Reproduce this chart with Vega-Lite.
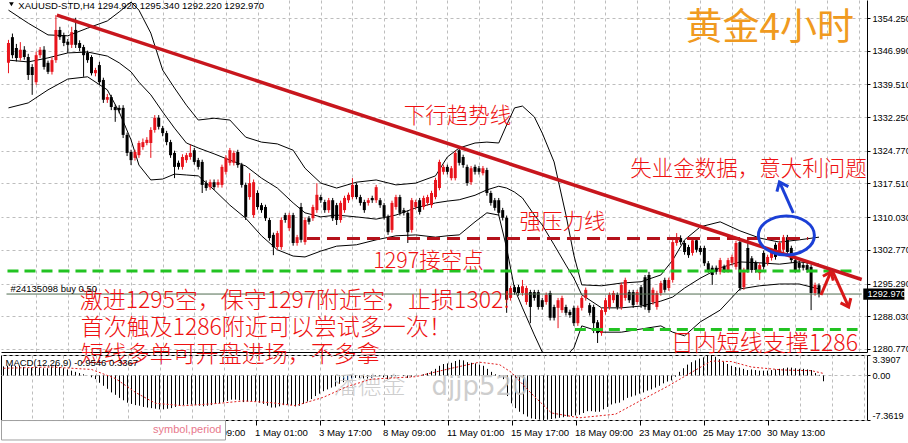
{
"$schema":"https://vega.github.io/schema/vega-lite/v6.json",
"background":"white",
"padding":0,
"spacing":3,
"bounds":"flush",
"config":{"view":{"stroke":null},"axis":{"labelFont":"Liberation Sans","labelFontSize":9.6,"labelColor":"black","labelOverlap":false,"labelBound":false,"tickCount":100}},
"datasets":{
"candles":[
{"i":0,"o":1344.3,"h":1349.4,"l":1342.0,"c":1348.7,"m":1.5},
{"i":1,"o":1350.0,"h":1350.8,"l":1345.3,"c":1346.0,"m":1.6},
{"i":2,"o":1347.6,"h":1348.5,"l":1344.6,"c":1345.4,"m":1.7},
{"i":3,"o":1345.4,"h":1348.9,"l":1344.8,"c":1347.2,"m":1.6},
{"i":4,"o":1347.2,"h":1348.0,"l":1345.0,"c":1345.6,"m":1.6},
{"i":5,"o":1345.6,"h":1346.3,"l":1340.5,"c":1341.6,"m":1.4},
{"i":6,"o":1343.4,"h":1344.0,"l":1337.2,"c":1341.6,"m":1.2},
{"i":7,"o":1340.0,"h":1346.8,"l":1339.4,"c":1346.0,"m":1.3},
{"i":8,"o":1346.0,"h":1347.8,"l":1345.4,"c":1347.2,"m":1.4},
{"i":9,"o":1347.2,"h":1348.0,"l":1342.8,"c":1343.4,"m":1.3},
{"i":10,"o":1344.3,"h":1344.8,"l":1341.8,"c":1342.3,"m":1.2},
{"i":11,"o":1342.3,"h":1345.5,"l":1341.7,"c":1344.9,"m":1.2},
{"i":12,"o":1344.9,"h":1354.9,"l":1344.3,"c":1351.6,"m":1.5},
{"i":13,"o":1351.6,"h":1352.3,"l":1349.4,"c":1350.0,"m":1.8},
{"i":14,"o":1350.5,"h":1351.0,"l":1348.0,"c":1348.7,"m":1.4},
{"i":15,"o":1349.0,"h":1349.6,"l":1346.5,"c":1348.3,"m":1.2},
{"i":16,"o":1348.3,"h":1352.3,"l":1347.6,"c":1351.1,"m":1.0},
{"i":17,"o":1351.6,"h":1354.3,"l":1347.6,"c":1348.3,"m":0.8},
{"i":18,"o":1348.7,"h":1349.3,"l":1346.9,"c":1347.6,"m":0.6},
{"i":19,"o":1347.8,"h":1348.3,"l":1341.2,"c":1346.0,"m":0.4},
{"i":20,"o":1346.5,"h":1347.0,"l":1344.3,"c":1344.9,"m":0.2},
{"i":21,"o":1345.6,"h":1346.0,"l":1341.5,"c":1342.0,"m":0.0},
{"i":22,"o":1342.0,"h":1343.2,"l":1341.3,"c":1342.7,"m":-0.3},
{"i":23,"o":1343.8,"h":1344.5,"l":1339.4,"c":1340.0,"m":-0.6},
{"i":24,"o":1340.5,"h":1341.0,"l":1335.4,"c":1336.1,"m":-1.2},
{"i":25,"o":1336.1,"h":1337.4,"l":1335.4,"c":1336.7,"m":-1.7},
{"i":26,"o":1336.7,"h":1337.2,"l":1333.8,"c":1334.5,"m":-2.2},
{"i":27,"o":1334.5,"h":1335.0,"l":1331.2,"c":1333.8,"m":-2.8},
{"i":28,"o":1334.3,"h":1334.9,"l":1333.1,"c":1333.8,"m":-3.2},
{"i":29,"o":1334.3,"h":1334.9,"l":1327.6,"c":1328.3,"m":-3.7},
{"i":30,"o":1328.3,"h":1328.8,"l":1323.6,"c":1324.3,"m":-4.1},
{"i":31,"o":1324.5,"h":1325.0,"l":1321.6,"c":1322.7,"m":-4.5},
{"i":32,"o":1323.2,"h":1325.0,"l":1322.6,"c":1324.5,"m":-4.7},
{"i":33,"o":1323.8,"h":1327.0,"l":1323.2,"c":1326.5,"m":-4.9},
{"i":34,"o":1325.6,"h":1327.5,"l":1325.0,"c":1326.7,"m":-5.0},
{"i":35,"o":1326.5,"h":1327.8,"l":1326.0,"c":1327.2,"m":-5.2},
{"i":36,"o":1326.5,"h":1330.0,"l":1323.2,"c":1329.4,"m":-5.3},
{"i":37,"o":1329.4,"h":1332.7,"l":1328.8,"c":1332.1,"m":-5.4},
{"i":38,"o":1332.1,"h":1332.7,"l":1329.5,"c":1330.1,"m":-5.5},
{"i":39,"o":1329.8,"h":1330.3,"l":1328.0,"c":1328.7,"m":-5.6},
{"i":40,"o":1328.7,"h":1329.2,"l":1326.0,"c":1326.7,"m":-5.6},
{"i":41,"o":1326.7,"h":1327.2,"l":1323.2,"c":1323.8,"m":-5.5},
{"i":42,"o":1324.3,"h":1324.8,"l":1318.7,"c":1321.2,"m":-5.4},
{"i":43,"o":1322.1,"h":1322.6,"l":1320.6,"c":1321.2,"m":-5.2},
{"i":44,"o":1321.2,"h":1324.0,"l":1320.6,"c":1323.4,"m":-5.0},
{"i":45,"o":1322.7,"h":1324.3,"l":1322.1,"c":1323.8,"m":-4.9},
{"i":46,"o":1323.4,"h":1326.1,"l":1322.8,"c":1324.3,"m":-4.8},
{"i":47,"o":1324.9,"h":1325.4,"l":1321.7,"c":1322.3,"m":-4.8},
{"i":48,"o":1322.7,"h":1323.2,"l":1320.6,"c":1321.2,"m":-4.9},
{"i":49,"o":1322.3,"h":1322.8,"l":1315.4,"c":1317.2,"m":-5.0},
{"i":50,"o":1317.6,"h":1318.2,"l":1315.9,"c":1316.5,"m":-5.1},
{"i":51,"o":1316.7,"h":1318.4,"l":1316.1,"c":1317.8,"m":-5.0},
{"i":52,"o":1317.8,"h":1318.4,"l":1316.1,"c":1316.7,"m":-4.9},
{"i":53,"o":1317.2,"h":1318.4,"l":1316.6,"c":1317.8,"m":-4.7},
{"i":54,"o":1317.2,"h":1321.7,"l":1316.6,"c":1321.2,"m":-4.6},
{"i":55,"o":1320.1,"h":1323.8,"l":1319.5,"c":1323.2,"m":-4.4},
{"i":56,"o":1322.1,"h":1325.4,"l":1321.5,"c":1324.9,"m":-4.2},
{"i":57,"o":1322.1,"h":1324.8,"l":1321.5,"c":1324.3,"m":-4.0},
{"i":58,"o":1324.5,"h":1325.0,"l":1321.0,"c":1321.6,"m":-4.0},
{"i":59,"o":1321.6,"h":1322.1,"l":1316.6,"c":1317.2,"m":-4.1},
{"i":60,"o":1317.2,"h":1317.7,"l":1309.4,"c":1310.1,"m":-4.4},
{"i":61,"o":1314.5,"h":1319.8,"l":1313.9,"c":1317.6,"m":-4.3},
{"i":62,"o":1310.5,"h":1318.4,"l":1309.9,"c":1317.8,"m":-4.2},
{"i":63,"o":1315.4,"h":1316.0,"l":1311.7,"c":1312.3,"m":-4.3},
{"i":64,"o":1312.7,"h":1313.2,"l":1311.0,"c":1311.6,"m":-4.5},
{"i":65,"o":1312.3,"h":1312.8,"l":1309.2,"c":1309.8,"m":-4.7},
{"i":66,"o":1309.4,"h":1309.9,"l":1304.8,"c":1305.4,"m":-5.0},
{"i":67,"o":1306.1,"h":1306.6,"l":1301.6,"c":1303.4,"m":-5.3},
{"i":68,"o":1303.4,"h":1307.0,"l":1302.8,"c":1306.5,"m":-5.3},
{"i":69,"o":1303.4,"h":1310.0,"l":1302.8,"c":1309.4,"m":-5.1},
{"i":70,"o":1310.5,"h":1311.0,"l":1308.8,"c":1309.4,"m":-4.9},
{"i":71,"o":1307.6,"h":1311.0,"l":1307.0,"c":1310.5,"m":-4.8},
{"i":72,"o":1310.5,"h":1311.0,"l":1303.7,"c":1304.3,"m":-4.9},
{"i":73,"o":1304.3,"h":1306.1,"l":1303.7,"c":1305.6,"m":-5.1},
{"i":74,"o":1312.3,"h":1313.2,"l":1304.4,"c":1305.0,"m":-5.0},
{"i":75,"o":1304.5,"h":1310.0,"l":1303.9,"c":1309.4,"m":-4.7},
{"i":76,"o":1309.8,"h":1310.3,"l":1308.4,"c":1309.0,"m":-4.3},
{"i":77,"o":1309.8,"h":1312.8,"l":1309.2,"c":1312.3,"m":-3.9},
{"i":78,"o":1311.6,"h":1317.6,"l":1311.0,"c":1315.0,"m":-3.4},
{"i":79,"o":1314.5,"h":1315.0,"l":1313.2,"c":1313.8,"m":-3.0},
{"i":80,"o":1313.4,"h":1313.9,"l":1311.0,"c":1311.6,"m":-2.6},
{"i":81,"o":1311.6,"h":1314.3,"l":1311.0,"c":1313.8,"m":-2.3},
{"i":82,"o":1313.8,"h":1314.3,"l":1309.2,"c":1309.8,"m":-2.0},
{"i":83,"o":1312.7,"h":1313.2,"l":1308.3,"c":1309.4,"m":-1.8},
{"i":84,"o":1309.4,"h":1313.7,"l":1308.8,"c":1313.2,"m":-1.4},
{"i":85,"o":1311.6,"h":1314.8,"l":1311.0,"c":1314.3,"m":-1.1},
{"i":86,"o":1313.8,"h":1315.5,"l":1313.2,"c":1315.0,"m":-0.8},
{"i":87,"o":1314.5,"h":1318.7,"l":1314.0,"c":1317.2,"m":-0.5},
{"i":88,"o":1317.2,"h":1317.7,"l":1314.0,"c":1314.5,"m":-0.4},
{"i":89,"o":1314.5,"h":1315.0,"l":1312.6,"c":1313.2,"m":-0.4},
{"i":90,"o":1313.4,"h":1313.9,"l":1311.0,"c":1311.6,"m":-0.5},
{"i":91,"o":1313.2,"h":1314.3,"l":1312.6,"c":1313.8,"m":-0.5},
{"i":92,"o":1314.3,"h":1314.8,"l":1313.2,"c":1313.8,"m":-0.4},
{"i":93,"o":1313.8,"h":1317.2,"l":1313.2,"c":1316.7,"m":-0.2},
{"i":94,"o":1313.8,"h":1314.3,"l":1312.1,"c":1312.7,"m":-0.2},
{"i":95,"o":1312.7,"h":1313.2,"l":1309.5,"c":1310.1,"m":-0.3},
{"i":96,"o":1310.1,"h":1310.6,"l":1306.1,"c":1306.7,"m":-0.6},
{"i":97,"o":1307.2,"h":1313.7,"l":1306.6,"c":1313.2,"m":-0.4},
{"i":98,"o":1312.3,"h":1315.0,"l":1311.7,"c":1314.5,"m":-0.1},
{"i":99,"o":1314.5,"h":1315.0,"l":1310.4,"c":1311.0,"m":0.0},
{"i":100,"o":1311.6,"h":1312.1,"l":1310.4,"c":1311.0,"m":-0.1},
{"i":101,"o":1311.0,"h":1311.5,"l":1304.3,"c":1306.7,"m":-0.4},
{"i":102,"o":1307.2,"h":1314.3,"l":1306.6,"c":1313.8,"m":-0.2},
{"i":103,"o":1312.3,"h":1313.9,"l":1311.7,"c":1313.4,"m":0.0},
{"i":104,"o":1313.8,"h":1314.3,"l":1310.6,"c":1311.2,"m":0.0},
{"i":105,"o":1312.3,"h":1314.8,"l":1311.7,"c":1314.3,"m":0.2},
{"i":106,"o":1313.2,"h":1315.0,"l":1312.6,"c":1314.5,"m":0.4},
{"i":107,"o":1312.7,"h":1315.9,"l":1312.1,"c":1315.4,"m":0.7},
{"i":108,"o":1314.5,"h":1318.8,"l":1314.0,"c":1318.3,"m":1.1},
{"i":109,"o":1316.5,"h":1322.8,"l":1316.0,"c":1322.3,"m":1.6},
{"i":110,"o":1320.1,"h":1321.7,"l":1319.5,"c":1321.2,"m":1.9},
{"i":111,"o":1321.2,"h":1321.7,"l":1319.5,"c":1320.1,"m":2.0},
{"i":112,"o":1318.7,"h":1321.4,"l":1318.2,"c":1320.9,"m":2.1},
{"i":113,"o":1318.7,"h":1324.8,"l":1318.2,"c":1324.3,"m":2.4},
{"i":114,"o":1324.9,"h":1325.8,"l":1321.5,"c":1322.1,"m":2.6},
{"i":115,"o":1323.4,"h":1323.9,"l":1321.0,"c":1321.6,"m":2.5},
{"i":116,"o":1321.2,"h":1321.7,"l":1317.0,"c":1317.6,"m":2.2},
{"i":117,"o":1317.8,"h":1321.4,"l":1317.2,"c":1320.9,"m":2.1},
{"i":118,"o":1321.2,"h":1321.7,"l":1319.5,"c":1320.1,"m":2.0},
{"i":119,"o":1320.9,"h":1321.4,"l":1319.5,"c":1320.1,"m":1.8},
{"i":120,"o":1319.8,"h":1321.4,"l":1319.3,"c":1320.9,"m":1.6},
{"i":121,"o":1320.5,"h":1321.0,"l":1314.8,"c":1315.4,"m":1.1},
{"i":122,"o":1315.4,"h":1315.9,"l":1312.6,"c":1313.2,"m":0.6},
{"i":123,"o":1313.8,"h":1314.3,"l":1311.5,"c":1312.1,"m":0.2},
{"i":124,"o":1313.8,"h":1314.3,"l":1310.4,"c":1311.0,"m":-0.2},
{"i":125,"o":1311.6,"h":1312.1,"l":1309.3,"c":1309.9,"m":-0.6},
{"i":126,"o":1309.9,"h":1310.4,"l":1288.8,"c":1291.7,"m":-3.4},
{"i":127,"o":1292.1,"h":1294.8,"l":1291.5,"c":1294.3,"m":-4.6},
{"i":128,"o":1294.5,"h":1295.0,"l":1292.8,"c":1293.4,"m":-5.4},
{"i":129,"o":1294.5,"h":1295.0,"l":1292.6,"c":1293.2,"m":-6.0},
{"i":130,"o":1293.2,"h":1296.1,"l":1292.6,"c":1294.7,"m":-6.4},
{"i":131,"o":1291.2,"h":1294.8,"l":1290.6,"c":1294.3,"m":-6.8},
{"i":132,"o":1293.4,"h":1293.9,"l":1286.5,"c":1290.1,"m":-7.1},
{"i":133,"o":1293.4,"h":1293.9,"l":1291.5,"c":1292.1,"m":-7.2},
{"i":134,"o":1293.4,"h":1293.9,"l":1289.5,"c":1290.1,"m":-7.3},
{"i":135,"o":1291.6,"h":1292.1,"l":1289.5,"c":1290.1,"m":-7.36},
{"i":136,"o":1291.2,"h":1293.3,"l":1290.6,"c":1292.8,"m":-7.3},
{"i":137,"o":1293.2,"h":1293.7,"l":1287.1,"c":1287.7,"m":-7.2},
{"i":138,"o":1290.1,"h":1290.6,"l":1287.1,"c":1287.7,"m":-7.1},
{"i":139,"o":1289.9,"h":1292.1,"l":1285.4,"c":1291.6,"m":-7.0},
{"i":140,"o":1289.4,"h":1292.6,"l":1288.8,"c":1292.1,"m":-6.9},
{"i":141,"o":1290.1,"h":1290.6,"l":1288.2,"c":1288.8,"m":-6.8},
{"i":142,"o":1289.0,"h":1289.5,"l":1287.7,"c":1288.3,"m":-6.7},
{"i":143,"o":1289.9,"h":1290.4,"l":1285.9,"c":1286.5,"m":-6.6},
{"i":144,"o":1286.5,"h":1290.4,"l":1285.9,"c":1289.9,"m":-6.5},
{"i":145,"o":1289.9,"h":1292.6,"l":1289.3,"c":1292.1,"m":-6.2},
{"i":146,"o":1292.1,"h":1294.4,"l":1291.5,"c":1293.9,"m":-5.9},
{"i":147,"o":1290.5,"h":1291.0,"l":1288.2,"c":1288.8,"m":-5.9},
{"i":148,"o":1290.1,"h":1290.6,"l":1284.3,"c":1286.5,"m":-6.0},
{"i":149,"o":1286.7,"h":1287.2,"l":1282.1,"c":1284.3,"m":-6.0},
{"i":150,"o":1284.3,"h":1289.9,"l":1283.7,"c":1289.4,"m":-5.6},
{"i":151,"o":1289.0,"h":1292.1,"l":1288.4,"c":1291.6,"m":-5.2},
{"i":152,"o":1290.1,"h":1293.3,"l":1289.5,"c":1292.8,"m":-4.8},
{"i":153,"o":1291.6,"h":1293.7,"l":1291.0,"c":1293.2,"m":-4.6},
{"i":154,"o":1292.8,"h":1293.3,"l":1289.5,"c":1290.1,"m":-4.5},
{"i":155,"o":1290.1,"h":1295.5,"l":1289.5,"c":1295.0,"m":-4.1},
{"i":156,"o":1292.1,"h":1296.6,"l":1291.5,"c":1296.1,"m":-3.7},
{"i":157,"o":1293.4,"h":1293.9,"l":1291.0,"c":1291.6,"m":-3.5},
{"i":158,"o":1293.4,"h":1293.9,"l":1289.9,"c":1290.5,"m":-3.3},
{"i":159,"o":1291.2,"h":1293.9,"l":1290.6,"c":1293.4,"m":-3.0},
{"i":160,"o":1294.5,"h":1295.0,"l":1289.9,"c":1290.5,"m":-2.8},
{"i":161,"o":1296.7,"h":1297.2,"l":1289.5,"c":1290.1,"m":-2.5},
{"i":162,"o":1297.2,"h":1297.9,"l":1288.8,"c":1289.4,"m":-2.3},
{"i":163,"o":1291.2,"h":1294.4,"l":1290.6,"c":1293.9,"m":-2.0},
{"i":164,"o":1290.1,"h":1293.7,"l":1289.5,"c":1293.2,"m":-1.7},
{"i":165,"o":1293.2,"h":1295.9,"l":1292.6,"c":1295.4,"m":-1.3},
{"i":166,"o":1296.1,"h":1296.6,"l":1293.3,"c":1293.9,"m":-1.0},
{"i":167,"o":1294.3,"h":1296.6,"l":1293.7,"c":1296.1,"m":-0.8},
{"i":168,"o":1296.1,"h":1305.0,"l":1295.5,"c":1304.5,"m":-0.2},
{"i":169,"o":1304.3,"h":1306.5,"l":1303.7,"c":1305.6,"m":0.6},
{"i":170,"o":1305.4,"h":1306.0,"l":1303.9,"c":1304.5,"m":1.2},
{"i":171,"o":1304.3,"h":1304.8,"l":1301.7,"c":1302.3,"m":1.8},
{"i":172,"o":1303.4,"h":1303.9,"l":1301.0,"c":1301.6,"m":2.2},
{"i":173,"o":1302.1,"h":1305.4,"l":1301.5,"c":1304.9,"m":2.5},
{"i":174,"o":1304.9,"h":1305.4,"l":1302.2,"c":1302.8,"m":2.8},
{"i":175,"o":1303.2,"h":1303.7,"l":1301.7,"c":1302.3,"m":3.0},
{"i":176,"o":1303.2,"h":1303.7,"l":1299.2,"c":1299.8,"m":3.3},
{"i":177,"o":1299.8,"h":1300.3,"l":1297.7,"c":1298.3,"m":3.39},
{"i":178,"o":1298.8,"h":1299.3,"l":1295.0,"c":1297.2,"m":3.1},
{"i":179,"o":1298.8,"h":1299.3,"l":1297.3,"c":1297.9,"m":2.7},
{"i":180,"o":1297.9,"h":1301.0,"l":1297.3,"c":1300.5,"m":2.3},
{"i":181,"o":1299.0,"h":1299.5,"l":1297.7,"c":1298.3,"m":1.9},
{"i":182,"o":1298.3,"h":1301.0,"l":1297.7,"c":1300.5,"m":1.6},
{"i":183,"o":1299.9,"h":1301.7,"l":1299.3,"c":1301.2,"m":1.4},
{"i":184,"o":1299.0,"h":1304.8,"l":1298.4,"c":1304.3,"m":1.3},
{"i":185,"o":1304.5,"h":1305.0,"l":1293.7,"c":1294.3,"m":1.1},
{"i":186,"o":1294.5,"h":1298.8,"l":1293.9,"c":1298.3,"m":0.9},
{"i":187,"o":1303.2,"h":1305.0,"l":1297.7,"c":1298.3,"m":1.0},
{"i":188,"o":1300.9,"h":1301.4,"l":1297.7,"c":1298.3,"m":0.9},
{"i":189,"o":1299.9,"h":1300.4,"l":1297.7,"c":1298.3,"m":0.8},
{"i":190,"o":1297.6,"h":1299.9,"l":1296.1,"c":1299.4,"m":0.8},
{"i":191,"o":1302.1,"h":1302.6,"l":1298.4,"c":1299.0,"m":0.8},
{"i":192,"o":1299.9,"h":1301.7,"l":1299.3,"c":1301.2,"m":0.9},
{"i":193,"o":1301.0,"h":1302.8,"l":1300.4,"c":1302.3,"m":1.0},
{"i":194,"o":1303.9,"h":1304.4,"l":1300.6,"c":1301.2,"m":1.1},
{"i":195,"o":1302.1,"h":1304.8,"l":1301.5,"c":1304.3,"m":1.2},
{"i":196,"o":1302.8,"h":1306.1,"l":1302.2,"c":1305.6,"m":1.3},
{"i":197,"o":1305.6,"h":1306.1,"l":1301.7,"c":1302.3,"m":1.3},
{"i":198,"o":1303.2,"h":1303.7,"l":1299.9,"c":1300.5,"m":1.2},
{"i":199,"o":1300.5,"h":1301.0,"l":1297.7,"c":1298.3,"m":1.1},
{"i":200,"o":1299.9,"h":1300.4,"l":1298.2,"c":1298.8,"m":1.1},
{"i":201,"o":1299.4,"h":1299.9,"l":1298.2,"c":1298.8,"m":1.0},
{"i":202,"o":1299.4,"h":1299.9,"l":1297.7,"c":1298.3,"m":0.9},
{"i":203,"o":1299.0,"h":1299.5,"l":1289.4,"c":1293.2,"m":0.4},
{"i":204,"o":1293.2,"h":1295.5,"l":1292.6,"c":1295.0,"m":0.1},
{"i":205,"o":1294.92,"h":1295.34,"l":1292.22,"c":1292.97,"m":-0.9546}
],
"bands":[
{"i":0,"up":1356.0,"mid":1344.9,"lo":1334.3},
{"i":5,"up":1353.1,"mid":1344.5,"lo":1335.4},
{"i":10,"up":1350.5,"mid":1345.4,"lo":1338.3},
{"i":15,"up":1350.3,"mid":1346.5,"lo":1340.7},
{"i":20,"up":1352.0,"mid":1346.7,"lo":1341.2},
{"i":25,"up":1353.6,"mid":1345.8,"lo":1338.3},
{"i":28,"up":1355.6,"mid":1344.3,"lo":1333.4},
{"i":31,"up":1357.8,"mid":1342.3,"lo":1327.2},
{"i":33,"up":1356.0,"mid":1340.0,"lo":1321.6},
{"i":36,"up":1350.9,"mid":1337.2,"lo":1318.3},
{"i":39,"up":1342.7,"mid":1333.4,"lo":1318.5},
{"i":42,"up":1338.7,"mid":1329.8,"lo":1319.6},
{"i":45,"up":1334.9,"mid":1326.5,"lo":1319.4},
{"i":48,"up":1331.6,"mid":1325.4,"lo":1319.2},
{"i":52,"up":1332.0,"mid":1324.1,"lo":1316.1},
{"i":56,"up":1331.6,"mid":1322.7,"lo":1312.7},
{"i":60,"up":1327.8,"mid":1321.4,"lo":1309.8},
{"i":64,"up":1326.7,"mid":1318.7,"lo":1305.9},
{"i":68,"up":1326.3,"mid":1316.5,"lo":1302.8},
{"i":72,"up":1324.9,"mid":1313.2,"lo":1301.4},
{"i":75,"up":1320.9,"mid":1311.0,"lo":1301.2},
{"i":79,"up":1317.6,"mid":1310.1,"lo":1302.5},
{"i":83,"up":1316.5,"mid":1310.5,"lo":1303.6},
{"i":88,"up":1317.8,"mid":1310.1,"lo":1303.9},
{"i":93,"up":1318.3,"mid":1309.6,"lo":1305.0},
{"i":98,"up":1317.2,"mid":1310.5,"lo":1305.9},
{"i":103,"up":1317.6,"mid":1312.1,"lo":1306.1},
{"i":108,"up":1319.2,"mid":1313.2,"lo":1305.6},
{"i":111,"up":1323.4,"mid":1313.6,"lo":1305.9},
{"i":114,"up":1325.4,"mid":1313.9,"lo":1306.1},
{"i":118,"up":1326.5,"mid":1314.9,"lo":1309.0},
{"i":121,"up":1326.7,"mid":1316.1,"lo":1311.0},
{"i":124,"up":1326.5,"mid":1316.9,"lo":1310.5},
{"i":126,"up":1330.5,"mid":1316.5,"lo":1303.2},
{"i":128,"up":1334.3,"mid":1315.6,"lo":1294.1},
{"i":130,"up":1334.7,"mid":1314.3,"lo":1289.9},
{"i":133,"up":1332.3,"mid":1310.5,"lo":1283.9},
{"i":135,"up":1328.7,"mid":1308.3,"lo":1280.1},
{"i":138,"up":1322.3,"mid":1303.9,"lo":1279.2},
{"i":141,"up":1310.5,"mid":1299.4,"lo":1279.2},
{"i":143,"up":1301.6,"mid":1296.5,"lo":1281.0},
{"i":145,"up":1295.0,"mid":1292.8,"lo":1285.9},
{"i":150,"up":1294.8,"mid":1289.9,"lo":1284.5},
{"i":155,"up":1295.4,"mid":1289.9,"lo":1284.5},
{"i":160,"up":1295.7,"mid":1290.3,"lo":1285.2},
{"i":165,"up":1297.2,"mid":1291.4,"lo":1285.9},
{"i":168,"up":1300.5,"mid":1292.3,"lo":1284.5},
{"i":171,"up":1305.0,"mid":1294.3,"lo":1283.7},
{"i":175,"up":1307.9,"mid":1296.5,"lo":1286.8},
{"i":180,"up":1309.0,"mid":1298.8,"lo":1289.4},
{"i":185,"up":1307.0,"mid":1300.1,"lo":1294.1},
{"i":190,"up":1305.4,"mid":1299.9,"lo":1294.8},
{"i":195,"up":1304.5,"mid":1299.6,"lo":1295.2},
{"i":200,"up":1305.0,"mid":1300.1,"lo":1295.2},
{"i":205,"up":1305.6,"mid":1299.6,"lo":1294.1}
],
"signal":[
{"i":0,"s":1.2},{"i":12,"s":1.4},{"i":22,"s":1.0},{"i":28,"s":-0.5},{"i":33,"s":-2.8},{"i":38,"s":-4.6},{"i":45,"s":-5.0},{"i":54,"s":-4.6},{"i":60,"s":-4.2},{"i":67,"s":-4.5},{"i":73,"s":-5.0},{"i":80,"s":-3.6},{"i":86,"s":-1.8},{"i":92,"s":-0.6},{"i":103,"s":-0.2},{"i":112,"s":1.2},{"i":119,"s":2.2},{"i":124,"s":1.8},{"i":127,"s":0.5},{"i":132,"s":-3.0},{"i":137,"s":-6.2},{"i":144,"s":-7.0},{"i":153,"s":-6.4},{"i":158,"s":-4.6},{"i":166,"s":-1.8},{"i":173,"s":0.9},{"i":177,"s":2.4},{"i":182,"s":2.3},{"i":187,"s":1.4},{"i":195,"s":0.9},{"i":202,"s":0.8},{"i":205,"s":0.34}
]
},
"vconcat":[
{
"width":866,"height":352,
"layer":[
{"data":{"name":"bands"},"mark":{"type":"line","color":"black","strokeWidth":1,"clip":true},
 "encoding":{
  "x":{"field":"i","type":"quantitative","scale":{"domain":[-0.625,215.875],"nice":false,"zero":false},
       "axis":{"title":null,"orient":"bottom","tickCount":100,"values":[7,15,23,31,39,47,55,63,71,79,87,95,103,111,119,127,135,143,151,159,167,175,183,191,199,207,215],"labels":false,"ticks":false,"domainColor":"black","grid":true,"gridDash":[3,3],"gridColor":"#bdbdbd"}},
  "y":{"field":"up","type":"quantitative","scale":{"domain":[1280.1,1358.25],"nice":false,"zero":false},
       "axis":{"title":null,"orient":"right","tickCount":100,"values":[1280.77,1288.03,1295.29,1302.77,1310.03,1317.51,1324.77,1332.25,1339.51,1346.99,1354.25],"format":".3f","labelFontSize":9.2,"labelOverlap":false,"labelBound":false,"domainColor":"black","tickColor":"black","tickSize":3,"labelPadding":2,"grid":true,"gridDash":[3,3],"gridColor":"#bdbdbd"}}}},
{"data":{"name":"bands"},"mark":{"type":"line","color":"black","strokeWidth":1,"clip":true},
 "encoding":{"x":{"field":"i","type":"quantitative"},"y":{"field":"mid","type":"quantitative"}}},
{"data":{"name":"bands"},"mark":{"type":"line","color":"black","strokeWidth":1,"clip":true},
 "encoding":{"x":{"field":"i","type":"quantitative"},"y":{"field":"lo","type":"quantitative"}}},
{"data":{"name":"candles"},"mark":{"type":"rule","strokeWidth":1},
 "encoding":{"x":{"field":"i","type":"quantitative"},"y":{"field":"l","type":"quantitative"},"y2":{"field":"h"},
  "color":{"condition":{"test":"datum.c >= datum.o","value":"#e8141c"},"value":"black"}}},
{"data":{"name":"candles"},"mark":{"type":"bar","size":3,"orient":"vertical"},
 "encoding":{"x":{"field":"i","type":"quantitative"},"y":{"field":"o","type":"quantitative"},"y2":{"field":"c"},
  "color":{"condition":{"test":"datum.c >= datum.o","value":"#e8141c"},"value":"black"}}},
{"data":{"values":[{"x1":-0.5,"x2":215.8,"p":1292.97}]},"mark":{"type":"rule","color":"#4f6b4f","strokeWidth":1,"clip":true},
 "encoding":{"x":{"field":"x1","type":"quantitative"},"x2":{"field":"x2"},"y":{"field":"p","type":"quantitative"}}},
{"data":{"values":[{"x1":-0.25,"x2":213.75,"p":1298.1},{"x1":143.25,"x2":214.75,"p":1285.1}]},"mark":{"type":"rule","color":"#22c322","strokeWidth":3,"strokeDash":[11,6],"clip":true},
 "encoding":{"x":{"field":"x1","type":"quantitative"},"x2":{"field":"x2"},"y":{"field":"p","type":"quantitative"}}},
{"data":{"values":[{"x1":75.5,"x2":202.25,"p":1305.3}]},"mark":{"type":"rule","color":"#b5121b","strokeWidth":3,"strokeDash":[13,7]},
 "encoding":{"x":{"field":"x1","type":"quantitative"},"x2":{"field":"x2"},"y":{"field":"p","type":"quantitative"}}},
{"data":{"values":[{"x1":12.25,"p1":1354.9,"x2":215.8,"p2":1296.2}]},"mark":{"type":"rule","color":"#c8161d","strokeWidth":3.5,"clip":true},
 "encoding":{"x":{"field":"x1","type":"quantitative"},"x2":{"field":"x2"},"y":{"field":"p1","type":"quantitative"},"y2":{"field":"p2"}}},
{"data":{"values":[{"i":196.75,"p":1305.97}]},"mark":{"type":"point","shape":"M-1,0 C-1,-0.387 -0.552,-0.7 0,-0.7 C0.552,-0.7 1,-0.387 1,0 C1,0.387 0.552,0.7 0,0.7 C-0.552,0.7 -1,0.387 -1,0 Z","size":3136,"filled":false,"stroke":"#1b3fd6","strokeWidth":3,"opacity":1},
 "encoding":{"x":{"field":"i","type":"quantitative"},"y":{"field":"p","type":"quantitative"}}},
{"data":{"values":[{"x1":198.5,"p1":1310.96,"x2":195.0,"p2":1317.85}]},"mark":{"type":"rule","color":"#1b3fd6","strokeWidth":3},
 "encoding":{"x":{"field":"x1","type":"quantitative"},"x2":{"field":"x2"},"y":{"field":"p1","type":"quantitative"},"y2":{"field":"p2"}}},
{"data":{"values":[{"i":195.0,"p":1317.85}]},"mark":{"type":"point","shape":"M-0.8,1 L0,0 L0.8,1","size":245,"angle":336,"filled":false,"stroke":"#1b3fd6","strokeWidth":3,"opacity":1},
 "encoding":{"x":{"field":"i","type":"quantitative"},"y":{"field":"p","type":"quantitative"}}},
{"data":{"values":[{"x1":205.5,"p1":1292.76,"x2":208.0,"p2":1297.87},{"x1":208.5,"p1":1297.87,"x2":212.5,"p2":1290.1}]},"mark":{"type":"rule","color":"#d81818","strokeWidth":3},
 "encoding":{"x":{"field":"x1","type":"quantitative"},"x2":{"field":"x2"},"y":{"field":"p1","type":"quantitative"},"y2":{"field":"p2"}}},
{"data":{"values":[{"i":208.0,"p":1297.87}]},"mark":{"type":"point","shape":"M-0.8,1 L0,0 L0.8,1","size":200,"angle":23,"filled":false,"stroke":"#d81818","strokeWidth":3,"opacity":1},
 "encoding":{"x":{"field":"i","type":"quantitative"},"y":{"field":"p","type":"quantitative"}}},
{"data":{"values":[{"i":212.5,"p":1290.1}]},"mark":{"type":"point","shape":"M-0.8,1 L0,0 L0.8,1","size":200,"angle":155,"filled":false,"stroke":"#d81818","strokeWidth":3,"opacity":1},
 "encoding":{"x":{"field":"i","type":"quantitative"},"y":{"field":"p","type":"quantitative"}}},
{"data":{"values":[
  {"i":100,"p":1332.3,"t":"下行趋势线"},
  {"i":157.25,"p":1320.5,"t":"失业金数据，意大利问题"},
  {"i":129.25,"p":1308.7,"t":"强压力线"},
  {"i":92.25,"p":1300.1,"t":"1297接空点"}]},
 "mark":{"type":"text","font":"Noto Sans CJK SC","fontSize":21.5,"fontWeight":300,"color":"#ee1111","align":"left","baseline":"middle"},
 "encoding":{"x":{"field":"i","type":"quantitative"},"y":{"field":"p","type":"quantitative"},"text":{"field":"t"}}},
{"data":{"values":[
  {"i":18,"p":1291.4,"t":"激进1295空，保守1297附近空，止损1302!"},
  {"i":18.25,"p":1285.4,"t":"首次触及1286附近可以尝试多一次！"},
  {"i":18.25,"p":1279.4,"t":"短线多单可开盘进场，不多拿"},
  {"i":167.5,"p":1281.9,"t":"日内短线支撑1286"}]},
 "mark":{"type":"text","font":"Noto Sans CJK SC","fontSize":23,"fontWeight":300,"color":"#ee1111","align":"left","baseline":"middle"},
 "encoding":{"x":{"field":"i","type":"quantitative"},"y":{"field":"p","type":"quantitative"},"text":{"field":"t"}}},
{"data":{"values":[{"i":171.25,"p":1351.8,"t":"黄金4小时"}]},
 "mark":{"type":"text","font":"Noto Sans CJK SC","fontSize":37,"color":"#f09a20","align":"left","baseline":"middle"},
 "encoding":{"x":{"field":"i","type":"quantitative"},"y":{"field":"p","type":"quantitative"},"text":{"field":"t"}}},
{"data":{"values":[{"i":0.5,"p":1294.1,"t":"#24135098 buy 0.50"}]},
 "mark":{"type":"text","font":"Liberation Sans","fontSize":9.5,"color":"black","align":"left","baseline":"middle"},
 "encoding":{"x":{"field":"i","type":"quantitative"},"y":{"field":"p","type":"quantitative"},"text":{"field":"t"}}},
{"data":{"values":[{"i":2.5,"p":1358.1,"t":"XAUUSD-STD,H4  1294.920 1295.340 1292.220 1292.970"}]},
 "mark":{"type":"text","font":"Liberation Sans","fontSize":9.5,"color":"black","align":"left","baseline":"top"},
 "encoding":{"x":{"field":"i","type":"quantitative"},"y":{"field":"p","type":"quantitative"},"text":{"field":"t"}}},
{"data":{"values":[{"i":0.75,"p":1357.3}]},"mark":{"type":"point","shape":"triangle-down","size":22,"filled":true,"color":"black","opacity":1},
 "encoding":{"x":{"field":"i","type":"quantitative"},"y":{"field":"p","type":"quantitative"}}},
{"data":{"values":[{"x1":216.2,"x2":226.6,"p1":1294.2,"p2":1291.7}]},"mark":{"type":"rect","color":"black","clip":false},
 "encoding":{"x":{"field":"x1","type":"quantitative"},"x2":{"field":"x2"},"y":{"field":"p1","type":"quantitative"},"y2":{"field":"p2"}}},
{"data":{"values":[{"i":217.25,"p":1292.97,"t":"1292.970"}]},"mark":{"type":"text","font":"Liberation Sans","fontSize":9.2,"color":"white","align":"left","baseline":"middle"},
 "encoding":{"x":{"field":"i","type":"quantitative"},"y":{"field":"p","type":"quantitative"},"text":{"field":"t"}}}
]
},
{
"width":866,"height":65,
"view":{"stroke":"black"},
"layer":[
{"data":{"name":"candles"},"mark":{"type":"rule","color":"black","strokeWidth":1},
 "encoding":{
  "x":{"field":"i","type":"quantitative","scale":{"domain":[-0.625,215.875],"nice":false,"zero":false},
   "axis":{"title":null,"orient":"bottom","tickCount":100,"values":[7,15,23,31,39,47,55,63,71,79,87,95,103,111,119,127,135,143,151,159,167,175,183,191,199,207,215],
    "labelExpr":"datum.value == 47 ? '26 Apr 09:00' : datum.value == 63 ? '1 May 01:00' : datum.value == 79 ? '3 May 17:00' : datum.value == 95 ? '8 May 09:00' : datum.value == 111 ? '11 May 01:00' : datum.value == 127 ? '15 May 17:00' : datum.value == 143 ? '18 May 09:00' : datum.value == 159 ? '23 May 01:00' : datum.value == 175 ? '25 May 17:00' : datum.value == 191 ? '30 May 13:00' : ''",
    "labelAlign":"left","labelBaseline":"top","labelOffset":-1,"labelPadding":2,"labelFlush":false,"labelOverlap":false,"labelBound":false,
    "domain":false,"tickSize":5,"tickColor":"black",
    "tickOpacity":{"condition":{"test":"datum.value % 16 == 15 && datum.value < 200","value":1},"value":0},
    "grid":true,"gridDash":[3,3],"gridColor":"#bdbdbd"}},
  "y":{"field":"m","type":"quantitative","scale":{"domain":[-7.3619,3.3907],"nice":false,"zero":false},
   "axis":{"title":null,"orient":"right","tickCount":100,"values":[3.3907,0,-7.3619],"labelExpr":"datum.value == 0 ? '0.00' : (datum.value < 0 ? '-7.3619' : '3.3907')","labelFontSize":9.2,"labelFlush":true,"labelOverlap":false,"labelBound":false,"domain":false,"tickColor":"black","tickSize":3,"labelPadding":2,"grid":true,"gridDash":[3,3],"gridColor":"#bdbdbd"}},
  "y2":{"datum":0}}},
{"data":{"values":[{"i":82.5,"v":-1.9,"t":"潘德金"}]},
 "mark":{"type":"text","font":"Noto Sans CJK SC","fontSize":24,"fontWeight":300,"color":"#c6c6c6","opacity":0.85,"align":"left","baseline":"middle"},
 "encoding":{"x":{"field":"i","type":"quantitative"},"y":{"field":"v","type":"quantitative"},"text":{"field":"t"}}},
{"data":{"values":[{"i":107,"v":-1.9,"t":"djjp520"}]},
 "mark":{"type":"text","font":"DejaVu Sans","fontSize":26,"color":"#c6c6c6","opacity":0.85,"align":"left","baseline":"middle"},
 "encoding":{"x":{"field":"i","type":"quantitative"},"y":{"field":"v","type":"quantitative"},"text":{"field":"t"}}},
{"data":{"name":"signal"},"mark":{"type":"line","color":"#e01b1b","strokeWidth":1,"strokeDash":[2,2]},
 "encoding":{"x":{"field":"i","type":"quantitative"},"y":{"field":"s","type":"quantitative"}}},
{"data":{"values":[{"i":0.5,"v":2.07,"t":"MACD(12,26,9) -0.9546 0.3367"}]},
 "mark":{"type":"text","font":"Liberation Sans","fontSize":9.5,"color":"black","align":"left","baseline":"middle"},
 "encoding":{"x":{"field":"i","type":"quantitative"},"y":{"field":"v","type":"quantitative"},"text":{"field":"t"}}},
{"data":{"values":[{"x1":-0.5,"x2":55.5,"v1":-7.45,"v2":-10.67}]},
 "mark":{"type":"rect","fill":"white","stroke":"#a0a0a0","strokeWidth":1,"clip":false},
 "encoding":{"x":{"field":"x1","type":"quantitative"},"x2":{"field":"x2"},"y":{"field":"v1","type":"quantitative"},"y2":{"field":"v2"}}},
{"data":{"values":[{"i":54.5,"v":-9.02,"t":"symbol,period"}]},
 "mark":{"type":"text","font":"Liberation Sans","fontSize":11,"color":"#e8788c","align":"right","baseline":"middle"},
 "encoding":{"x":{"field":"i","type":"quantitative"},"y":{"field":"v","type":"quantitative"},"text":{"field":"t"}}}
]
}
]
}
